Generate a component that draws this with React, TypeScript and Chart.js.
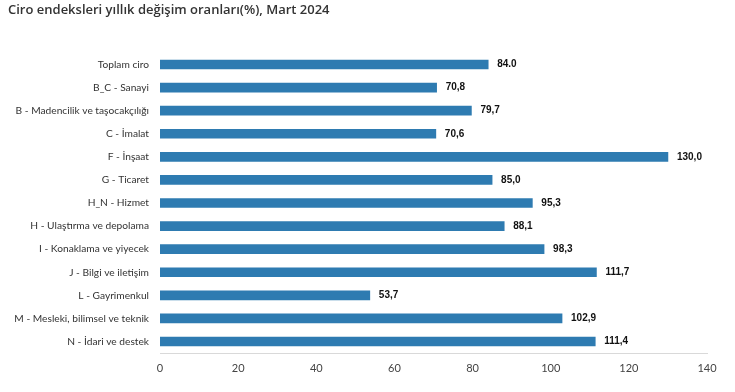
import React, { useEffect, useRef } from "react";
import { Chart, registerables } from "chart.js";
Chart.register(...registerables);

const categories = [
  "Toplam ciro",
  "B_C - Sanayi",
  "B - Madencilik ve taşocakçılığı",
  "C - İmalat",
  "F - İnşaat",
  "G - Ticaret",
  "H_N - Hizmet",
  "H - Ulaştırma ve depolama",
  "I - Konaklama ve yiyecek",
  "J - Bilgi ve iletişim",
  "L - Gayrimenkul",
  "M - Mesleki, bilimsel ve teknik",
  "N - İdari ve destek",
];
const values = [84.0, 70.8, 79.7, 70.6, 130.0, 85.0, 95.3, 88.1, 98.3, 111.7, 53.7, 102.9, 111.4];
const valueLabels = ["84.0", "70,8", "79,7", "70,6", "130,0", "85,0", "95,3", "88,1", "98,3", "111,7", "53,7", "102,9", "111,4"];
const xTicks = [0, 20, 40, 60, 80, 100, 120, 140];
const title = "Ciro endeksleri yıllık değişim oranları(%), Mart 2024";

const labelPlugin = {
  id: "valueLabels",
  afterDatasetsDraw(chart: any) {
    const ctx = chart.ctx;
    const meta = chart.getDatasetMeta(0);
    ctx.save();
    ctx.font = "bold 10px 'Liberation Sans', Arial, sans-serif";
    ctx.fillStyle = "#111";
    ctx.textAlign = "left";
    ctx.textBaseline = "middle";
    meta.data.forEach((bar: any, i: number) => {
      ctx.fillText(valueLabels[i], bar.x + 9, bar.y);
    });
    ctx.restore();
  },
};

export default function App() {
  const ref = useRef<HTMLCanvasElement>(null);
  useEffect(() => {
    const chart = new Chart(ref.current!, {
      type: "bar",
      data: {
        labels: categories,
        datasets: [
          {
            data: values,
            backgroundColor: "#2e7bb1",
            barThickness: 9,
          },
        ],
      },
      options: {
        indexAxis: "y",
        animation: false,
        responsive: false,
        maintainAspectRatio: false,
        layout: { padding: { left: 0, right: 28, top: 0, bottom: 0 } },
        plugins: {
          legend: { display: false },
          tooltip: { enabled: false },
          title: {
            display: true,
            text: title,
            align: "start",
            color: "#333",
            font: { family: "'Open Sans', 'Noto Sans', sans-serif", size: 13, weight: "600", lineHeight: 1.2 },
            padding: { top: 2, bottom: 35.4 },
          },
        },
        scales: {
          x: {
            min: 0,
            max: 140,
            afterBuildTicks(scale: any) {
              scale.ticks = xTicks.map((v) => ({ value: v }));
            },
            afterFit(scale: any) {
              scale.height = 39;
            },
            grid: { display: false, drawTicks: false },
            border: { display: true, color: "#d9d9d9" },
            ticks: {
              padding: 9,
              color: "#444",
              font: { family: "Lato, 'Open Sans', sans-serif", size: 11 },
            },
          },
          y: {
            afterFit(scale: any) {
              scale.width = 160;
            },
            grid: { display: false, drawTicks: false },
            border: { display: false },
            ticks: {
              padding: 11,
              color: "#333",
              font: { family: "Lato, 'Open Sans', sans-serif", size: 10.2 },
            },
          },
        },
      },
      plugins: [
        labelPlugin,
        {
          id: "titleIndent",
          beforeDraw(chart: any) {
            const t = chart.titleBlock;
            if (t) {
              t.left = 8;
            }
          },
        },
      ],
    });
    return () => chart.destroy();
  }, []);
  return (
    <div style={{ position: "fixed", left: 0, top: 0, width: 735, height: 392, background: "#fff" }}>
      <canvas ref={ref} width={735} height={392} style={{ display: "block" }} />
    </div>
  );
}
